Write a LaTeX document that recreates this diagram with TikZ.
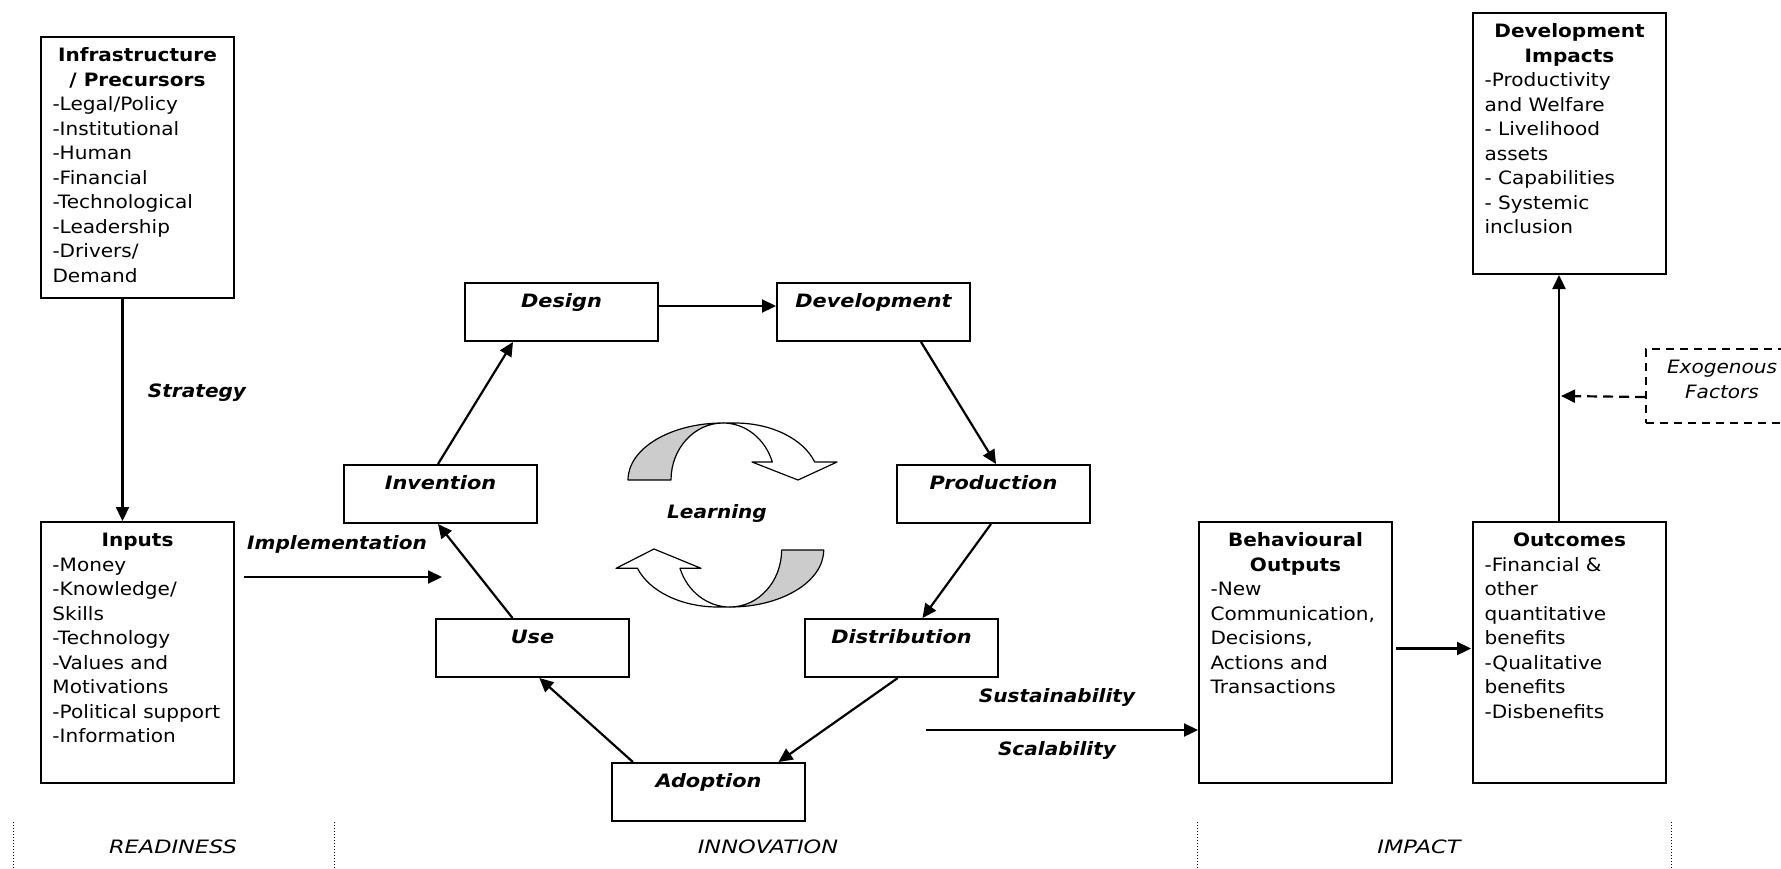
\documentclass[tikz,border=0pt]{standalone}
\usepackage{fontspec}
\usepackage{graphicx}
\setmainfont{DejaVu Sans}[FakeStretch=1.09]
\usetikzlibrary{arrows.meta,calc}
\newcommand{\dgfont}{\fontsize{9.2pt}{12.25pt}\selectfont}
\newcommand{\bigbx}[1]{\parbox[t][122.8pt][t]{85pt}{\raggedright\strut #1}}
\newcommand{\smbx}[1]{\parbox[t][21.3pt][t]{85pt}{\centering\strut\bfseries\itshape\scalebox{1.04}[1]{#1}}}
\newcommand{\wide}[1]{\scalebox{1.12}[1]{#1}}
\tikzset{
  box/.style={draw, line width=1pt, anchor=north west, inner xsep=5.75pt, inner ysep=3.85pt, font=\dgfont},
  conn/.style={line width=1.1pt, -{Triangle[length=7pt,width=6.5pt]}},
  lbl/.style={font=\dgfont\bfseries\itshape, inner sep=0pt, anchor=base},
  sec/.style={font=\dgfont\itshape, inner sep=0pt, anchor=base},
  divider/.style={densely dotted, line width=0.5pt},
  curl/.style={line width=0.6pt, draw=black, line join=round},
}
\begin{document}
\begin{tikzpicture}[x=0.5pt,y=-0.5pt]
\fill[white] (0,0) rectangle (1781,868);
\path[use as bounding box, clip] (0,0) rectangle (1781,868);

% big boxes
\node[box] (infra) at (40,36) {\bigbx{{\centering\bfseries Infrastructure\\ / Precursors\par}-Legal/Policy\\-Institutional\\-Human\\-Financial\\-Technological\\-Leadership\\-Drivers/\\Demand}};
\node[box] (inputs) at (40,521) {\bigbx{{\centering\bfseries Inputs\par}-Money\\-Knowledge/\\Skills\\-Technology\\-Values and\\Motivations\\-Political support\\-Information}};
\node[box] (behav) at (1198,521) {\bigbx{{\centering\bfseries Behavioural\\Outputs\par}-New\\Communication,\\Decisions,\\Actions and\\Transactions}};
\node[box] (outc) at (1472,521) {\bigbx{{\centering\bfseries Outcomes\par}-Financial \&\\other\\quantitative\\benefits\\-Qualitative\\benefits\\-Disbenefits}};
\node[box] (devimp) at (1472,12) {\bigbx{{\centering\bfseries Development\\Impacts\par}-Productivity\\and Welfare\\- Livelihood\\assets\\- Capabilities\\- Systemic\\inclusion}};
\node[box, dashed, dash pattern=on 4pt off 3pt] (exo) at (1645,348) {\parbox[t][29.3pt][t]{64.5pt}{\centering\strut\itshape Exogenous\\Factors}};

% cycle boxes
\node[box] (design) at (464,282) {\smbx{Design}};
\node[box] (devel) at (776,282) {\smbx{Development}};
\node[box] (inv) at (343,464) {\smbx{Invention}};
\node[box] (prod) at (896,464) {\smbx{Production}};
\node[box] (use) at (435,618) {\smbx{Use}};
\node[box] (dist) at (804,618) {\smbx{Distribution}};
\node[box] (adopt) at (611,762) {\smbx{Adoption}};

% labels
\node[lbl] (strat) at (197,397) {Strategy};
\node[lbl] (impl) at (337,549) {Implementation};
\node[lbl] (learn) at (717,518) {Learning};
\node[lbl] (sust) at (1057,702) {Sustainability};
\node[lbl] (scal) at (1057,755) {Scalability};

% connectors
\draw[conn] ($(infra.south)+(-15,0)$) -- ($(inputs.north)+(-15,0)$);
\coordinate (implEnd) at (442,577);
\draw[conn] ($(inputs.north east)+(9,56)$) -- (implEnd);
\draw[conn] ($(design.east)+(0,-6)$) -- ($(devel.west)+(0,-6)$);
\draw[conn] ($(devel.south)+(47.5,0)$) -- ($(prod.north)+(2.5,0)$);
\draw[conn] ($(prod.south)+(-2.5,0)$) -- ($(dist.north)+(21,0)$);
\draw[conn] ($(dist.south)+(-3.75,0)$) -- ($(adopt.north)+(70,0)$);
\draw[conn] ($(adopt.north)+(-75.6,0)$) -- ($(use.south)+(6.8,0)$);
\draw[conn] ($(use.north)+(-20,0)$) -- ($(inv.south)+(-2.5,0)$);
\draw[conn] ($(inv.north)+(-2.5,0)$) -- ($(design.south)+(-48.5,0)$);
\coordinate (sustStart) at (926,730);
\draw[conn] (sustStart) -- (sustStart -| behav.west);
\draw[conn] ($(behav.east)+(3,-4)$) -- ($(outc.west)+(-1,-4)$);
\draw[conn] ($(outc.north)+(-10.5,0)$) -- ($(devimp.south)+(-10.5,0)$);
\coordinate (exoEnd) at (1561,396);
\draw[conn, dash pattern=on 5pt off 3pt] ($(exo.west)+(0,11)$) -- (exoEnd);

% learning curls
\filldraw[curl, fill=black!20] (628,480)
  arc[start angle=180, end angle=90, x radius=47.5pt, y radius=28.5pt]
  arc[start angle=90, end angle=180, x radius=26pt, y radius=28.5pt] -- cycle;
\filldraw[curl, fill=white] (723,423)
  -- (735,423)
  arc[start angle=90, end angle=18.4, x radius=42pt, y radius=28.5pt]
  -- (837,462) -- (798,480) -- (752,462) -- (772.3,462)
  arc[start angle=18.4, end angle=90, x radius=26pt, y radius=28.5pt] -- cycle;
\filldraw[curl, fill=black!20] (823.7,550)
  arc[start angle=0, end angle=-90, x radius=46.85pt, y radius=28.5pt]
  arc[start angle=-90, end angle=0, x radius=25.8pt, y radius=28.5pt] -- cycle;
\filldraw[curl, fill=white] (730,607)
  -- (718,607)
  arc[start angle=-90, end angle=-161.3, x radius=42.5pt, y radius=28.5pt]
  -- (616,568.3) -- (654,549) -- (701,568.3) -- (680,568.3)
  arc[start angle=-161.3, end angle=-90, x radius=26.4pt, y radius=28.5pt] -- cycle;

% section dividers and labels
\draw[divider] (13.5,822) -- (13.5,868);
\draw[divider] (334,822) -- (334,868);
\draw[divider] (1197,822) -- (1197,868);
\draw[divider] (1671,822) -- (1671,868);
\node[sec] (readiness) at (173,853) {\wide{READINESS}};
\node[sec] (innovation) at (768,853) {\wide{INNOVATION}};
\node[sec] (impact) at (1419,853) {\wide{IMPACT}};
\end{tikzpicture}
\end{document}
